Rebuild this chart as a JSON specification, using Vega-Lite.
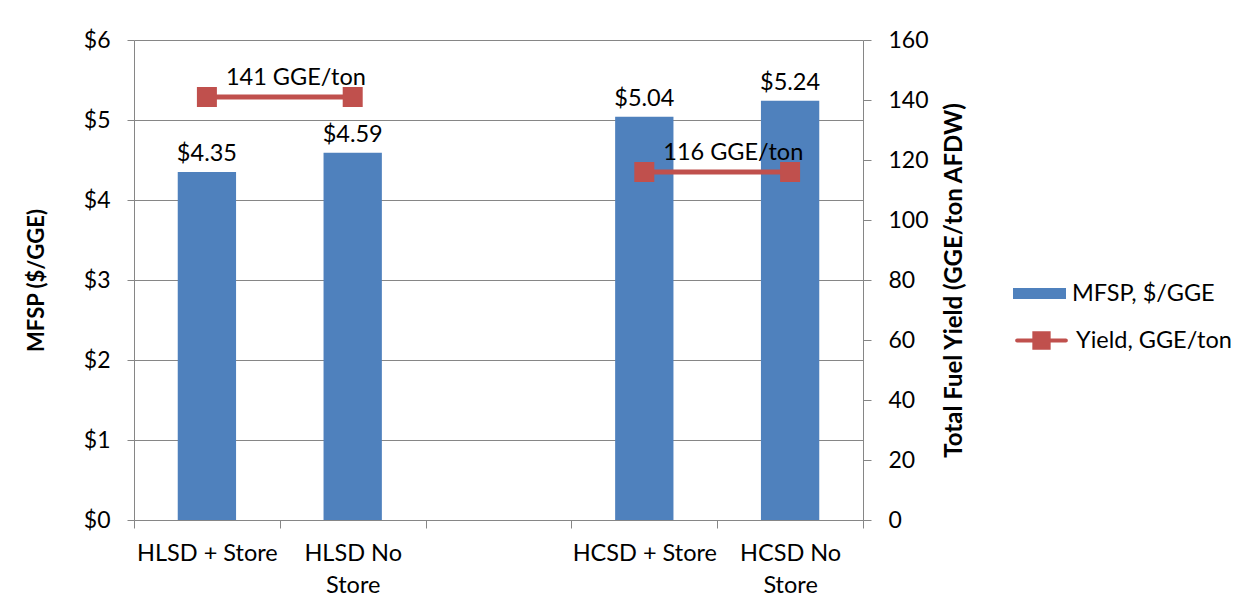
{
  "$schema": "https://vega.github.io/schema/vega-lite/v6.json",
  "width": 729,
  "height": 480,
  "autosize": {"type": "none"},
  "padding": {"left": 134, "top": 40, "right": 383, "bottom": 93},
  "background": "white",
  "config": {
    "font": "Lato",
    "view": {"stroke": null},
    "axis": {
      "labelFont": "Lato",
      "titleFont": "Lato",
      "labelColor": "black",
      "titleColor": "black",
      "domainColor": "#868686",
      "tickColor": "#868686",
      "gridColor": "#868686",
      "gridOpacity": 1,
      "domainWidth": 1,
      "tickWidth": 1
    },
    "legend": {"labelFont": "Lato", "labelColor": "black"}
  },
  "data": {
    "values": [
      {"cat": "HLSD + Store", "mfsp": 4.35, "yield": 141, "grp": "HLSD", "ylab": "141 GGE/ton"},
      {"cat": "HLSD No Store", "mfsp": 4.59, "yield": 141, "grp": "HLSD", "ylab": ""},
      {"cat": "HCSD + Store", "mfsp": 5.04, "yield": 116, "grp": "HCSD", "ylab": "116 GGE/ton"},
      {"cat": "HCSD No Store", "mfsp": 5.24, "yield": 116, "grp": "HCSD", "ylab": ""}
    ]
  },
  "encoding": {
    "x": {
      "field": "cat",
      "type": "nominal",
      "sort": null,
      "scale": {
        "domain": ["HLSD + Store", "HLSD No Store", "gap", "HCSD + Store", "HCSD No Store"],
        "paddingInner": 0,
        "paddingOuter": 0
      },
      "axis": {
        "title": null,
        "labelAngle": 0,
        "labelFontSize": 23.5,
        "labelLineHeight": 32,
        "labelPadding": 13,
        "tickSize": 8,
        "tickBand": "extent",
        "grid": false,
        "labelExpr": "datum.value == 'gap' ? '' : datum.value == 'HLSD No Store' ? ['HLSD No', 'Store'] : datum.value == 'HCSD No Store' ? ['HCSD No', 'Store'] : datum.value"
      }
    }
  },
  "layer": [
    {
      "layer": [
        {
          "mark": {"type": "bar", "width": {"band": 0.4}},
          "encoding": {
            "y": {
              "field": "mfsp",
              "type": "quantitative",
              "scale": {"domain": [0, 6], "nice": false},
              "axis": {
                "orient": "left",
                "values": [0, 1, 2, 3, 4, 5, 6],
                "labelExpr": "'$' + datum.value",
                "grid": true,
                "tickSize": 7,
                "labelPadding": 17,
                "labelFontSize": 23,
                "title": "MFSP ($/GGE)",
                "titleFontSize": 22,
                "titleFontWeight": "bold",
                "titleAngle": 270,
                "titleX": -98,
                "titleY": 240,
                "titleAlign": "center",
                "titleBaseline": "middle"
              }
            },
            "fill": {
              "datum": "MFSP, $/GGE",
              "scale": {"range": ["#4F81BD"]},
              "legend": {
                "orient": "none",
                "legendX": 879,
                "legendY": 227,
                "title": null,
                "padding": 0,
                "symbolType": "M-1,-0.21H1V0.21H-1Z",
                "symbolSize": 2809,
                "symbolStrokeWidth": 0,
                "labelFontSize": 23.5,
                "labelOffset": 6
              }
            }
          }
        },
        {
          "mark": {"type": "text", "fontSize": 23.5, "baseline": "alphabetic", "dy": -11, "color": "black"},
          "encoding": {
            "y": {"field": "mfsp", "type": "quantitative"},
            "text": {"field": "mfsp", "type": "quantitative", "format": "$.2f"}
          }
        }
      ]
    },
    {
      "layer": [
        {
          "mark": {"type": "line", "strokeWidth": 5},
          "encoding": {
            "y": {
              "field": "yield",
              "type": "quantitative",
              "scale": {"domain": [0, 160], "nice": false},
              "axis": {
                "orient": "right",
                "values": [0, 20, 40, 60, 80, 100, 120, 140, 160],
                "grid": false,
                "tickSize": 8,
                "labelPadding": 17,
                "labelFontSize": 23,
                "title": "Total Fuel Yield (GGE/ton AFDW)",
                "titleFontSize": 24,
                "titleFontWeight": "bold",
                "titleAngle": 270,
                "titleX": 91,
                "titleY": 240,
                "titleAlign": "center",
                "titleBaseline": "middle"
              }
            },
            "detail": {"field": "grp"},
            "stroke": {
              "datum": "Yield, GGE/ton",
              "scale": {"range": ["#C0504D"]},
              "legend": {
                "orient": "none",
                "legendX": 879,
                "legendY": 272,
                "title": null,
                "padding": 0,
                "symbolType": "M-0.92,0H0.92M-0.27,-0.27H0.27V0.27H-0.27Z",
                "symbolSize": 2809,
                "symbolStrokeWidth": 4,
                "symbolFillColor": "#C0504D",
                "labelFontSize": 23.5,
                "labelOffset": 6,
                "encode": {"symbols": {"update": {"fill": {"value": "#C0504D"}, "stroke": {"value": "#C0504D"}, "strokeWidth": {"value": 4}, "strokeCap": {"value": "round"}}}}
              }
            }
          }
        },
        {
          "mark": {"type": "point", "shape": "square", "filled": true, "size": 400, "color": "#C0504D", "opacity": 1},
          "encoding": {"y": {"field": "yield", "type": "quantitative"}}
        },
        {
          "transform": [{"filter": "datum.ylab != ''"}],
          "mark": {"type": "text", "fontSize": 23.5, "align": "left", "baseline": "alphabetic", "dx": 19, "dy": -12, "color": "black"},
          "encoding": {
            "y": {"field": "yield", "type": "quantitative"},
            "text": {"field": "ylab"}
          }
        }
      ]
    }
  ],
  "resolve": {"scale": {"y": "independent"}}
}
